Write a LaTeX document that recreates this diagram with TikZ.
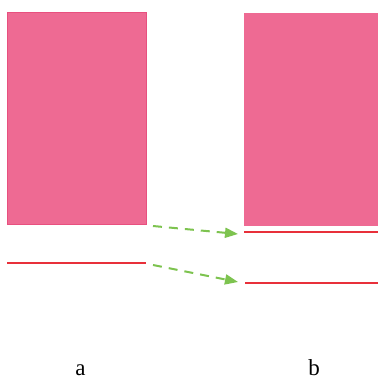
\documentclass[tikz,border=0pt]{standalone}
\usepackage{fontspec}
\setmainfont{Liberation Serif}
\usetikzlibrary{arrows.meta}
\definecolor{pinkfill}{HTML}{EE6A93}
\definecolor{pinkedge}{HTML}{E8507F}
\definecolor{redline}{HTML}{E8303A}
\definecolor{greenarr}{HTML}{7DC34F}
\tikzset{
  block/.style={fill=pinkfill},
  redbar/.style={draw=redline, line width=2pt},
  movearrow/.style={draw=greenarr, line width=2pt, dash pattern=on 9pt off 7pt,
    -{Triangle[length=13pt,width=10pt]}},
  lbl/.style={font=\fontsize{23}{27}\selectfont, anchor=base, inner sep=0pt, text depth=0pt}
}
\begin{document}
\begin{tikzpicture}[x=1pt,y=-1pt]
\useasboundingbox (0,0) rectangle (378,378);
% left block
\path[block, draw=pinkedge, line width=1pt] (7,12) rectangle (146,224);
\coordinate (la1) at (7,263);
\coordinate (la2) at (146,263);
\draw[redbar] (la1) -- (la2);
% right block
\path[block] (244,13) rectangle (378,226);
\coordinate (rb1) at (244,232);
\coordinate (rb2) at (378,232);
\draw[redbar] (rb1) -- (rb2);
\coordinate (rc1) at (245,283);
\coordinate (rc2) at (378,283);
\draw[redbar] (rc1) -- (rc2);
% arrows
\coordinate (s1) at (153,226);
\coordinate (t1) at (238,234);
\coordinate (s2) at (153,265);
\coordinate (t2) at (238,282);
\draw[movearrow] (s1) -- (t1);
\draw[movearrow] (s2) -- (t2);
% labels
\node[lbl] (a) at (80.5,375) {a};
\node[lbl] (b) at (314,375) {b};
\end{tikzpicture}
\end{document}
